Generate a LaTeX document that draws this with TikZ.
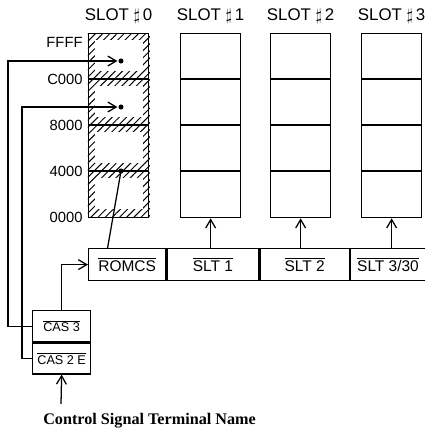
\documentclass[tikz,border=0pt]{standalone}
\usepackage{fontspec}
\setmainfont{Liberation Serif}
\setsansfont{Liberation Sans}
\usetikzlibrary{positioning, calc, arrows.meta, patterns.meta}

\newcommand{\ovl}[1]{$\overline{\mbox{#1}}$}

\begin{document}
\begin{tikzpicture}[x=0.025cm, y=-0.025cm, >={Straight Barb[length=6pt,width=7pt]}, line width=0.9pt,
    font=\sffamily\fontsize{11}{13}\selectfont,
    slotbox/.style={draw, inner sep=0pt, minimum width=1.5cm, minimum height=4.6cm, anchor=north west},
    sigbox/.style={draw, inner sep=0pt, minimum height=0.8cm, anchor=north west},
    casbox/.style={draw, inner sep=0pt, minimum width=1.45cm, minimum height=0.775cm, anchor=north west, font=\sffamily\fontsize{9}{11}\selectfont},
    addr/.style={anchor=east, inner sep=2pt, font=\sffamily\fontsize{10.5}{12}\selectfont}]
    \useasboundingbox (0,0) rectangle (425,437);

    % slot 0 hatching
    \fill[pattern={Lines[angle=45, distance=3.6pt, line width=0.7pt]}] (88,33) rectangle (150,217);
    \foreach \k in {0,...,3}
        \fill[white] (95,33+46*\k+7) rectangle (143,33+46*\k+38);

    % slots
    \foreach \n/\x in {0/88,1/180,2/270,3/361} {
        \node[slotbox] (slot\n) at (\x,33) {};
        \foreach \k in {1,2,3}
            \draw (\x,33+46*\k) -- ++(60,0);
        \node[above=3pt of slot\n, font=\sffamily\fontsize{12}{14}\selectfont] (title\n) {SLOT $\sharp$\,\n};
    }

    % addresses
    \node[addr] (aFFFF) at (86,42) {FFFF};
    \node[addr] (aC000) at (86,79) {C000};
    \node[addr] (a8000) at (86,125) {8000};
    \node[addr] (a4000) at (86,171) {4000};
    \node[addr] (a0000) at (86,217) {0000};

    % control signal boxes
    \node[sigbox, minimum width=1.925cm] (romcs) at (88,248) {\ovl{ROMCS}};
    \node[sigbox, minimum width=2.3cm] (slt1) at (romcs.north east) {\ovl{SLT 1}};
    \node[sigbox, minimum width=2.225cm] (slt2) at (slt1.north east) {\ovl{SLT 2}};
    \node[sigbox, minimum width=1.875cm] (slt3) at (slt2.north east) {\ovl{SLT 3/30}};

    \node[casbox] (cas3) at (32,310) {\ovl{CAS 3}};
    \node[casbox] (cas2) at (cas3.south west) {\ovl{CAS 2 E}};

    \node[anchor=west, font=\rmfamily\bfseries\fontsize{11.5}{13}\selectfont] (ctrl) at (38,421) {Control Signal Terminal Name};

    % dots in slot 0
    \coordinate (d3) at (121,61);
    \coordinate (d2) at (121,107);
    \coordinate (d1) at (121,171);
    \foreach \d in {d1,d2,d3}
        \fill (\d) circle (1.8pt);

    % connections
    \coordinate (w3) at (8,61);
    \coordinate (w2) at (22,107);
    \draw[->, shorten >=2.5pt] (cas3.west) -| (w3) -- (d3);
    \draw[->, shorten >=2.5pt] (cas2.west) -| (w2) -- (d2);
    \draw (d1) -- ($(romcs.north west)!0.25!(romcs.north east)$);
    \draw[->] (cas3.north) |- (romcs.west);
    \foreach \n in {1,2,3}
        \draw[->] (slot\n.south |- slt\n.north) -- (slot\n.south);
    \coordinate (cbot) at (61,404);
    \draw[->] (cbot) -- (cas2.south);
\end{tikzpicture}
\end{document}
